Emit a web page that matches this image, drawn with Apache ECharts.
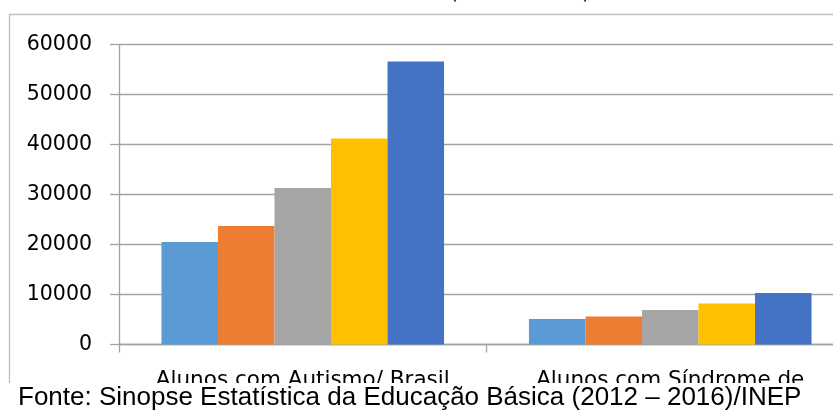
<!DOCTYPE html>
<html>
<head>
<meta charset="utf-8">
<script src="https://cdn.jsdelivr.net/npm/echarts@6/dist/echarts.min.js"></script>
<style>
  html, body { margin: 0; padding: 0; background: #ffffff; }
  #chart { width: 833px; height: 411px; }
</style>
</head>
<body>
<div id="chart"></div>
<script>
// Categories on the x axis
const categories = ['Alunos com Autismo/ Brasil', 'Alunos com Síndrome de'];
// One series per school year
const years = ['2012', '2013', '2014', '2015', '2016'];
const values2012 = [20500, 5100];
const values2013 = [23700, 5600];
const values2014 = [31300, 6900];
const values2015 = [41200, 8200];
const values2016 = [56600, 10300];
const yearColors = ['#5B9BD5', '#ED7D31', '#A5A5A5', '#FFC000', '#4472C4'];
const titleText = '(2012 – 2016)';
const sourceText = 'Fonte: Sinopse Estatística da Educação Básica (2012 – 2016)/INEP';

const seriesValues = [values2012, values2013, values2014, values2015, values2016];

const chart = echarts.init(document.getElementById('chart'), null, { renderer: 'canvas' });

const gridColor = '#a3a3a3';
const chartFont = 'DejaVu Sans';

chart.setOption({
  animation: false,
  backgroundColor: '#ffffff',
  // plot area continues past the right edge of the page
  grid: { left: 119, top: 44.5, width: 735, height: 300, containLabel: false, outerBoundsMode: 'none' },
  xAxis: {
    type: 'category',
    data: categories,
    axisLine: { show: true, lineStyle: { color: gridColor, width: 1.3 } },
    axisTick: { show: true, length: 8, alignWithLabel: false, lineStyle: { color: gridColor, width: 1.3 } },
    axisLabel: {
      show: true, interval: 0, margin: 25, verticalAlign: 'top',
      fontFamily: chartFont, fontSize: 21.5, color: '#000000'
    },
    splitLine: { show: false }
  },
  yAxis: {
    type: 'value',
    min: 0, max: 60000, interval: 10000,
    axisLine: { show: true, lineStyle: { color: gridColor, width: 1.3 } },
    axisTick: { show: true, length: 9, inside: false, lineStyle: { color: gridColor, width: 1.3 } },
    axisLabel: {
      margin: 27, fontFamily: chartFont, fontSize: 20.5, color: '#000000',
      formatter: (v) => String(v)
    },
    splitLine: { show: true, lineStyle: { color: gridColor, width: 1.3 } }
  },
  series: years.map((y, i) => ({
    name: y,
    type: 'bar',
    data: seriesValues[i],
    barGap: '0%',
    barCategoryGap: '23.1%',
    itemStyle: { color: yearColors[i] }
  })),
  graphic: [
    {
      // outer chart frame
      type: 'rect', z: -1, silent: true,
      shape: { x: 9.5, y: 14.5, width: 900, height: 420 },
      style: { fill: null, stroke: '#bfbfbf', lineWidth: 1.3 }
    },
    {
      // chart title, running off the top edge
      type: 'text', z: 10, silent: true,
      x: 520, y: -6,
      style: {
        text: titleText, fontFamily: chartFont, fontSize: 20, fill: '#000000',
        align: 'center', verticalAlign: 'middle'
      }
    },
    {
      // source note band below the chart
      type: 'rect', z: 50, silent: true,
      shape: { x: 0, y: 383, width: 833, height: 28 },
      style: { fill: '#ffffff' }
    },
    {
      type: 'text', z: 51, silent: true,
      x: 18, y: 397.5,
      style: {
        text: sourceText, fontFamily: 'Liberation Sans', fontSize: 26, fill: '#000000',
        align: 'left', verticalAlign: 'middle'
      }
    }
  ]
});
</script>
</body>
</html>
